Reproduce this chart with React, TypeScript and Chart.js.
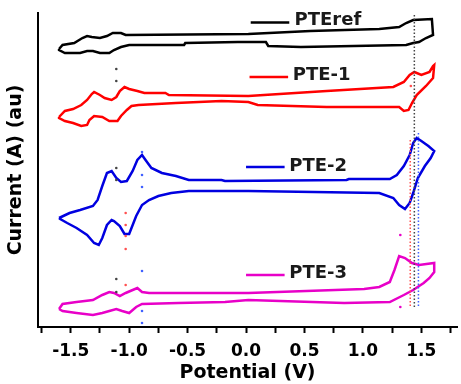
import React, { useEffect, useRef } from "react";
import { Chart, registerables } from "chart.js";

Chart.register(...registerables);

type Pt = [number, number];

// Potential (V) vs current (arbitrary units, offset per curve)
const PTE_REF: Pt[] = [
  [-1.6, 278], [-1.57, 282], [-1.47, 284], [-1.4, 289], [-1.36, 291], [-1.32, 290], [-1.25, 289],
  [-1.19, 291], [-1.14, 294], [-1.07, 294], [-1.03, 292], [0.02, 293], [0.55, 296], [1.14, 298],
  [1.31, 300], [1.37, 304], [1.43, 307], [1.59, 308], [1.6, 292], [1.54, 289], [1.48, 285],
  [1.43, 284], [1.37, 282], [0.47, 280], [0.19, 281], [0.17, 285], [-0.07, 285], [-0.52, 284],
  [-0.53, 282], [-1.0, 282], [-1.07, 280], [-1.13, 277], [-1.17, 274], [-1.25, 274], [-1.31, 276],
  [-1.36, 276], [-1.42, 274], [-1.48, 274], [-1.55, 274], [-1.6, 277], [-1.6, 278],
];

const PTE_1: Pt[] = [
  [-1.6, 210], [-1.55, 216], [-1.48, 218], [-1.41, 222], [-1.36, 227], [-1.32, 233], [-1.3, 235],
  [-1.25, 232], [-1.21, 229], [-1.15, 227], [-1.11, 230], [-1.08, 236], [-1.04, 240], [-1.0, 238],
  [-0.93, 236], [-0.87, 234], [-0.69, 234], [-0.66, 232], [0.02, 231], [0.69, 236], [1.26, 240],
  [1.35, 245], [1.4, 252], [1.44, 255], [1.5, 252], [1.57, 255], [1.6, 261], [1.61, 262],
  [1.6, 249], [1.54, 241], [1.46, 232], [1.42, 224], [1.39, 217], [1.35, 216], [1.31, 220],
  [0.69, 220], [0.1, 222], [0.02, 225], [-0.21, 226], [-0.6, 224], [-0.92, 222], [-0.98, 221],
  [-1.02, 217], [-1.07, 211], [-1.1, 206], [-1.17, 206], [-1.23, 210], [-1.3, 211], [-1.34, 207],
  [-1.36, 202], [-1.41, 201], [-1.48, 204], [-1.55, 206], [-1.6, 209], [-1.6, 210],
];

const PTE_2: Pt[] = [
  [-1.6, 109], [-1.51, 114], [-1.42, 117], [-1.31, 121], [-1.27, 127], [-1.23, 141], [-1.19, 154],
  [-1.15, 156], [-1.11, 149], [-1.07, 145], [-1.02, 146], [-0.97, 156], [-0.93, 167], [-0.89, 172],
  [-0.86, 167], [-0.81, 159], [-0.72, 154], [-0.6, 151], [-0.49, 147], [-0.21, 147], [-0.18, 146],
  [0.86, 147], [0.88, 148], [1.23, 148], [1.29, 152], [1.35, 161], [1.4, 172], [1.43, 184],
  [1.46, 189], [1.5, 186], [1.56, 181], [1.61, 176], [1.58, 169], [1.53, 161], [1.47, 149],
  [1.43, 134], [1.4, 124], [1.36, 118], [1.31, 122], [1.26, 129], [1.14, 134], [0.02, 136],
  [-0.49, 136], [-0.64, 134], [-0.75, 131], [-0.83, 127], [-0.89, 122], [-0.94, 111], [-0.97, 102],
  [-1.0, 93], [-1.04, 93], [-1.08, 101], [-1.13, 106], [-1.15, 107], [-1.19, 102], [-1.23, 89],
  [-1.26, 82], [-1.3, 84], [-1.36, 92], [-1.45, 99], [-1.53, 104], [-1.59, 108], [-1.6, 109],
];

const PTE_3: Pt[] = [
  [-1.6, 18], [-1.57, 23], [-1.45, 25], [-1.31, 27], [-1.23, 32], [-1.17, 35], [-1.13, 34],
  [-1.08, 31], [-1.03, 34], [-0.97, 37], [-0.93, 39], [-0.89, 35], [-0.83, 34], [0.02, 34],
  [1.01, 38], [1.14, 40], [1.23, 45], [1.27, 57], [1.31, 71], [1.36, 69], [1.42, 64], [1.48, 62],
  [1.61, 64], [1.61, 55], [1.57, 49], [1.52, 44], [1.43, 37], [1.35, 32], [1.23, 25], [0.84, 24],
  [0.02, 27], [-0.18, 25], [-0.58, 24], [-0.89, 23], [-0.94, 20], [-1.0, 14], [-1.06, 16],
  [-1.11, 18], [-1.17, 16], [-1.23, 14], [-1.31, 12], [-1.45, 14], [-1.57, 16], [-1.6, 18],
];

// peak-position marker lines (dotted)
const REF_PEAK_LINE: Pt[] = [[1.44, 312], [1.44, 20]];
const PTE1_PEAK_LINE: Pt[] = [[1.405, 187], [1.405, 20]];
const PTE2_PEAK_LINE: Pt[] = [[1.475, 194], [1.475, 20]];

// sparse peak-position dots
const REF_DOTS: Pt[] = [[-1.11, 258], [-1.11, 246], [-1.11, 159], [-1.11, 147], [-1.11, 48], [-1.11, 35]];
const PTE1_DOTS: Pt[] = [[-1.03, 114], [-1.03, 102], [-1.03, 91], [-1.03, 78], [-1.03, 42], [1.41, 241]];
const PTE2_DOTS: Pt[] = [[-0.89, 175], [-0.89, 152], [-0.89, 140], [-0.89, 56], [-0.89, 16], [-0.89, 4]];
const PTE3_DOTS: Pt[] = [[1.32, 92], [1.32, 20]];

const SERIES_NAMES = ["PTEref", "PTE-1", "PTE-2", "PTE-3"];
const SERIES_COLORS = ["#000000", "#ff0000", "#0000e0", "#e800c8"];
const DOT_COLORS = ["#444444", "#ff5050", "#4060ff", "#e800c8"];

// inline label anchors (data coordinates)
const LABEL_LINE_X1 = [0.04, 0.03, 0.0, 0.0];
const LABEL_LINE_X2 = [0.37, 0.36, 0.33, 0.33];
const LABEL_LINE_Y = [304.5, 250, 160, 52];
const LABEL_TEXT_X = [0.415, 0.4, 0.37, 0.37];
const LABEL_TEXT_Y = [306.5, 252, 161, 54];

const X_TICKS = [-1.75, -1.5, -1.25, -1.0, -0.75, -0.5, -0.25, 0, 0.25, 0.5, 0.75, 1.0, 1.25, 1.5, 1.75];
const X_MIN = -1.78;
const X_MAX = 1.805;
const Y_MIN = 0;
const Y_MAX = 314;

const toXY = (pts: Pt[]) => pts.map(([x, y]) => ({ x, y }));

const inlineLabels = {
  id: "inlineLabels",
  afterDatasetsDraw(chart: any) {
    const { ctx, scales } = chart;
    const xs = scales.x;
    const ys = scales.y;
    ctx.save();
    SERIES_NAMES.forEach((name, i) => {
      const ly = ys.getPixelForValue(LABEL_LINE_Y[i]);
      ctx.strokeStyle = SERIES_COLORS[i];
      ctx.lineWidth = 2.5;
      ctx.beginPath();
      ctx.moveTo(xs.getPixelForValue(LABEL_LINE_X1[i]), ly);
      ctx.lineTo(xs.getPixelForValue(LABEL_LINE_X2[i]), ly);
      ctx.stroke();
      ctx.fillStyle = "#1a1a1a";
      ctx.font = 'bold 18px "DejaVu Sans"';
      ctx.textAlign = "left";
      ctx.textBaseline = "middle";
      ctx.fillText(name, xs.getPixelForValue(LABEL_TEXT_X[i]), ys.getPixelForValue(LABEL_TEXT_Y[i]));
    });
    ctx.restore();
  },
};

export default function App() {
  const ref = useRef<HTMLCanvasElement | null>(null);

  useEffect(() => {
    if (!ref.current) return;
    const curves = [PTE_REF, PTE_1, PTE_2, PTE_3];
    const peakLines = [REF_PEAK_LINE, PTE1_PEAK_LINE, PTE2_PEAK_LINE];
    const dots = [REF_DOTS, PTE1_DOTS, PTE2_DOTS, PTE3_DOTS];

    const datasets: any[] = [];
    peakLines.forEach((pl, i) => {
      datasets.push({
        data: toXY(pl),
        showLine: true,
        borderColor: DOT_COLORS[i],
        borderWidth: 1.5,
        borderDash: [1.5, 2],
        pointRadius: 0,
      });
    });
    dots.forEach((d, i) => {
      datasets.push({
        data: toXY(d),
        showLine: false,
        pointRadius: 1.3,
        pointBorderWidth: 0,
        pointBackgroundColor: DOT_COLORS[i],
      });
    });
    curves.forEach((c, i) => {
      datasets.push({
        label: SERIES_NAMES[i],
        data: toXY(c),
        showLine: true,
        borderColor: SERIES_COLORS[i],
        borderWidth: 2.5,
        pointRadius: 0,
        tension: 0,
      });
    });

    const chart = new Chart(ref.current, {
      type: "scatter",
      data: { datasets },
      options: {
        animation: false,
        responsive: true,
        maintainAspectRatio: false,
        layout: { padding: { top: 13, right: 0, left: 0, bottom: 0 } },
        plugins: { legend: { display: false }, tooltip: { enabled: false } },
        scales: {
          x: {
            type: "linear",
            min: X_MIN,
            max: X_MAX,
            afterFit: (s: any) => {
              s.height = 57;
            },
            afterBuildTicks: (s: any) => {
              s.ticks = X_TICKS.map((v) => ({ value: v }));
            },
            ticks: {
              autoSkip: false,
              maxRotation: 0,
              padding: 8,
              color: "#000",
              font: { family: "DejaVu Sans", size: 17, weight: "bold" },
              callback: (v: any) => {
                const n = Number(v);
                return Math.abs(n * 2 - Math.round(n * 2)) < 1e-6 ? n.toFixed(1) : "";
              },
            },
            grid: {
              display: true,
              drawOnChartArea: false,
              drawTicks: true,
              tickLength: 6,
              tickWidth: 2,
              tickColor: "#000",
            },
            border: { display: true, color: "#000", width: 2 },
            title: {
              display: true,
              text: "Potential (V)",
              color: "#000",
              font: { family: "DejaVu Sans", size: 19, weight: "bold" },
              padding: { top: 0, bottom: 0 },
            },
          },
          y: {
            type: "linear",
            min: Y_MIN,
            max: Y_MAX,
            afterFit: (s: any) => {
              s.width = 38;
            },
            ticks: { display: false },
            grid: { display: false },
            border: { display: true, color: "#000", width: 2 },
            title: {
              display: true,
              text: "Current (A) (au)",
              color: "#000",
              font: { family: "DejaVu Sans", size: 19, weight: "bold" },
              padding: { top: 5, bottom: 0 },
            },
          },
        },
      },
      plugins: [inlineLabels],
    });
    return () => chart.destroy();
  }, []);

  return (
    <div style={{ position: "fixed", left: 0, top: 0, width: 461, height: 384, background: "#fff" }}>
      <canvas ref={ref} />
    </div>
  );
}
